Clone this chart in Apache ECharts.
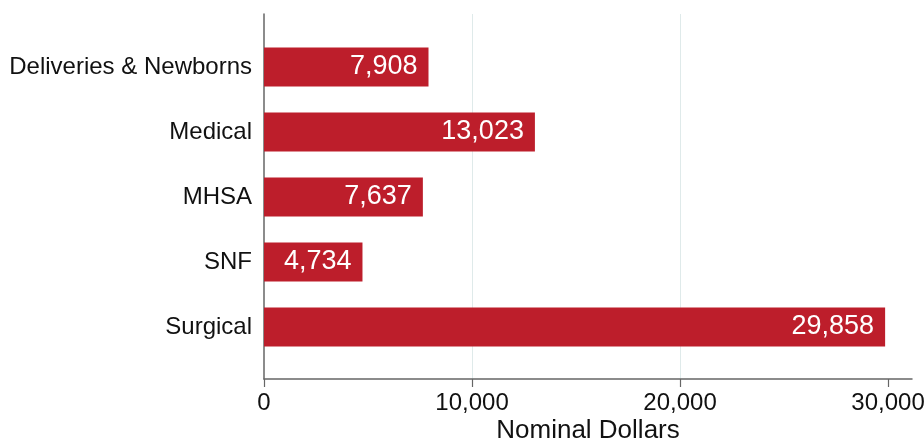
<!DOCTYPE html>
<html>
<head>
<meta charset="utf-8">
<script src="https://cdn.jsdelivr.net/npm/echarts@6/dist/echarts.min.js"></script>
<style>
  html, body { margin: 0; padding: 0; background: #fff; }
  #chart { width: 924px; height: 440px; }
</style>
</head>
<body>
<div id="chart"></div>
<script>
// Average cost per stay by service line
const categories = ['Deliveries & Newborns', 'Medical', 'MHSA', 'SNF', 'Surgical'];
const costs = [7908, 13023, 7637, 4734, 29858];
const xTicks = [0, 10000, 20000, 30000];
const xAxisTitle = 'Nominal Dollars';

const FONT = '"Liberation Sans", Arial, sans-serif';
const X_MAX = 31150;
const fmt = v => v.toLocaleString('en-US');

const chart = echarts.init(document.getElementById('chart'));
chart.setOption({
  animation: false,
  textStyle: { fontFamily: FONT },
  grid: [
    // frame: axis lines, ticks, grid lines
    { left: 264, right: 12, top: 14, bottom: 61, outerBoundsMode: 'none', containLabel: false },
    // bars
    { left: 264, right: 12, top: 34.5, height: 325, outerBoundsMode: 'none', containLabel: false }
  ],
  xAxis: [
    {
      type: 'value', gridIndex: 0, min: 0, max: X_MAX, interval: 10000,
      name: xAxisTitle, nameLocation: 'middle', nameGap: 39, nameMoveOverlap: false,
      nameTextStyle: { fontSize: 26, color: '#111', fontFamily: FONT },
      axisLine: { show: true, lineStyle: { color: '#666', width: 1.5 } },
      axisTick: { show: true, length: 8, lineStyle: { color: '#666', width: 1.2 }, customValues: xTicks },
      axisLabel: { fontSize: 24, color: '#111', margin: 12, fontFamily: FONT, customValues: xTicks, formatter: fmt, hideOverlap: false },
      splitLine: { show: true, showMinLine: false, showMaxLine: false, lineStyle: { color: '#dfeaea', width: 1 } }
    },
    {
      type: 'value', gridIndex: 1, min: 0, max: X_MAX, show: false
    }
  ],
  yAxis: [
    {
      type: 'value', gridIndex: 0, min: 0, max: 1,
      axisLine: { show: true, lineStyle: { color: '#666', width: 1.5 } },
      axisTick: { show: false }, axisLabel: { show: false }, splitLine: { show: false }
    },
    {
      type: 'category', gridIndex: 1, data: categories, inverse: true,
      axisLine: { show: false }, axisTick: { show: false },
      axisLabel: { fontSize: 24, color: '#111', margin: 12, fontFamily: FONT }
    }
  ],
  series: [{
    type: 'bar', xAxisIndex: 1, yAxisIndex: 1,
    data: costs, barWidth: 39,
    itemStyle: { color: '#BD1E2B' },
    label: {
      show: true, position: 'insideRight', distance: 11,
      color: '#fff', fontSize: 27, fontFamily: FONT,
      formatter: p => fmt(p.value)
    }
  }]
});
</script>
</body>
</html>
